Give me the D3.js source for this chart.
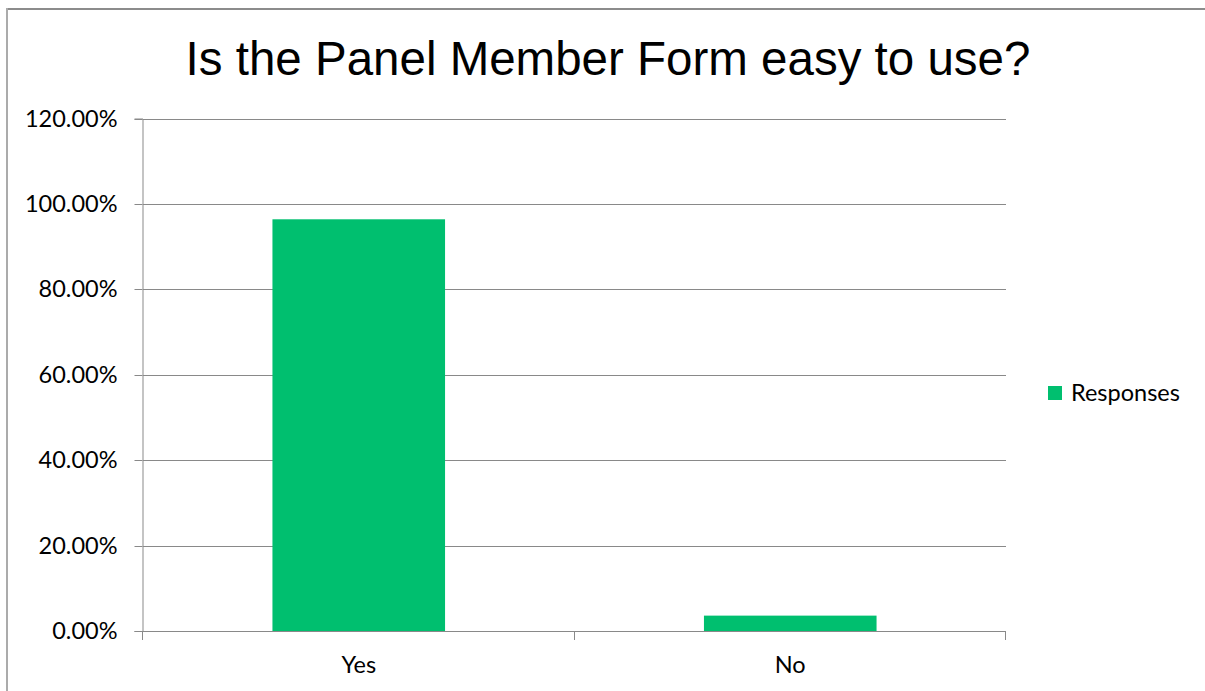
<!DOCTYPE html>
<html>
<head>
<meta charset="utf-8">
<script src="https://cdn.jsdelivr.net/npm/d3@7"></script>
<style>
  html, body { margin: 0; padding: 0; background: #fff; }
  svg { display: block; }
</style>
</head>
<body>
<svg id="chart" width="1205" height="691"></svg>
<script>
// Survey data
const categories = ["Yes", "No"];
const responses = [0.964, 0.036];
const yTicks = [0, 0.2, 0.4, 0.6, 0.8, 1.0, 1.2];
const seriesName = "Responses";
const titleText = "Is the Panel Member Form easy to use?";

const svg = d3.select("#chart");
const W = 1205, H = 691;
const plot = { left: 143, right: 1006, top: 118.5, bottom: 631 };
const green = "#00BF6F";
const grid = "#898989";
const labelFont = "Lato, 'Open Sans', sans-serif";
const labelSize = 23.5;

// Outer frame (top and left edges visible)
svg.append("line").attr("x1", 6).attr("x2", W).attr("y1", 9).attr("y2", 9)
  .attr("stroke", "#8c8c8c").attr("stroke-width", 2);
svg.append("line").attr("x1", 7).attr("x2", 7).attr("y1", 8).attr("y2", H)
  .attr("stroke", "#ababab").attr("stroke-width", 2);

// Title
svg.append("text")
  .attr("x", 608).attr("y", 75)
  .attr("text-anchor", "middle")
  .attr("font-family", "'Liberation Sans', Arial, sans-serif")
  .attr("font-size", 47.5)
  .attr("fill", "#000")
  .text(titleText);

const x = d3.scaleBand()
  .domain(categories)
  .range([plot.left, plot.right])
  .paddingInner(0.6)
  .paddingOuter(0.3);

const y = d3.scaleLinear()
  .domain([0, 1.2])
  .range([plot.bottom, plot.top]);

// Horizontal gridlines
svg.append("g").selectAll("line")
  .data(yTicks.filter(d => d > 0))
  .join("line")
  .attr("x1", plot.left).attr("x2", plot.right)
  .attr("y1", d => Math.round(y(d)) + 0.5).attr("y2", d => Math.round(y(d)) + 0.5)
  .attr("stroke", grid).attr("stroke-width", 1);

// Y axis
const yAxis = d3.axisLeft(y)
  .tickValues(yTicks)
  .tickFormat(d => (d * 100).toFixed(2) + "%")
  .tickSize(8)
  .tickPadding(17);
const gy = svg.append("g")
  .attr("transform", `translate(${plot.left - 0.5},0)`)
  .call(yAxis);
gy.select(".domain").attr("stroke", grid);
gy.selectAll(".tick line").attr("stroke", grid)
  .attr("transform", "translate(0,0.5)");
gy.selectAll(".tick text")
  .attr("font-family", labelFont)
  .attr("font-size", labelSize)
  .attr("fill", "#000");
gy.selectAll(".tick").attr("transform", d => `translate(0,${Math.round(y(d))})`);

// Bars
svg.append("g").selectAll("rect")
  .data(categories.map((c, i) => ({ c, v: responses[i] })))
  .join("rect")
  .attr("x", d => x(d.c))
  .attr("width", x.bandwidth())
  .attr("y", d => y(d.v))
  .attr("height", d => y(0) - y(d.v))
  .attr("fill", green);

// X axis with category boundary ticks
const gx = svg.append("g");
gx.append("line")
  .attr("x1", plot.left).attr("x2", plot.right)
  .attr("y1", Math.round(y(0)) + 0.5).attr("y2", Math.round(y(0)) + 0.5)
  .attr("stroke", grid);
const boundaries = [plot.left, ...categories.map(c => x(c) + x.bandwidth() / 2 + x.step() / 2)];
gx.selectAll("line.tick")
  .data(boundaries)
  .join("line")
  .attr("class", "tick")
  .attr("x1", d => Math.round(d) - 0.5).attr("x2", d => Math.round(d) - 0.5)
  .attr("y1", Math.round(y(0))).attr("y2", Math.round(y(0)) + 9)
  .attr("stroke", grid);
gx.selectAll("text")
  .data(categories)
  .join("text")
  .attr("x", d => x(d) + x.bandwidth() / 2)
  .attr("y", 673)
  .attr("text-anchor", "middle")
  .attr("font-family", labelFont)
  .attr("font-size", labelSize)
  .attr("fill", "#000")
  .text(d => d);

// Legend
const lg = svg.append("g").attr("transform", "translate(1048,386)");
lg.append("rect").attr("width", 14).attr("height", 14).attr("fill", green);
lg.append("text")
  .attr("x", 23).attr("y", 15)
  .attr("font-family", labelFont)
  .attr("font-size", labelSize)
  .attr("fill", "#000")
  .text(seriesName);
</script>
</body>
</html>
